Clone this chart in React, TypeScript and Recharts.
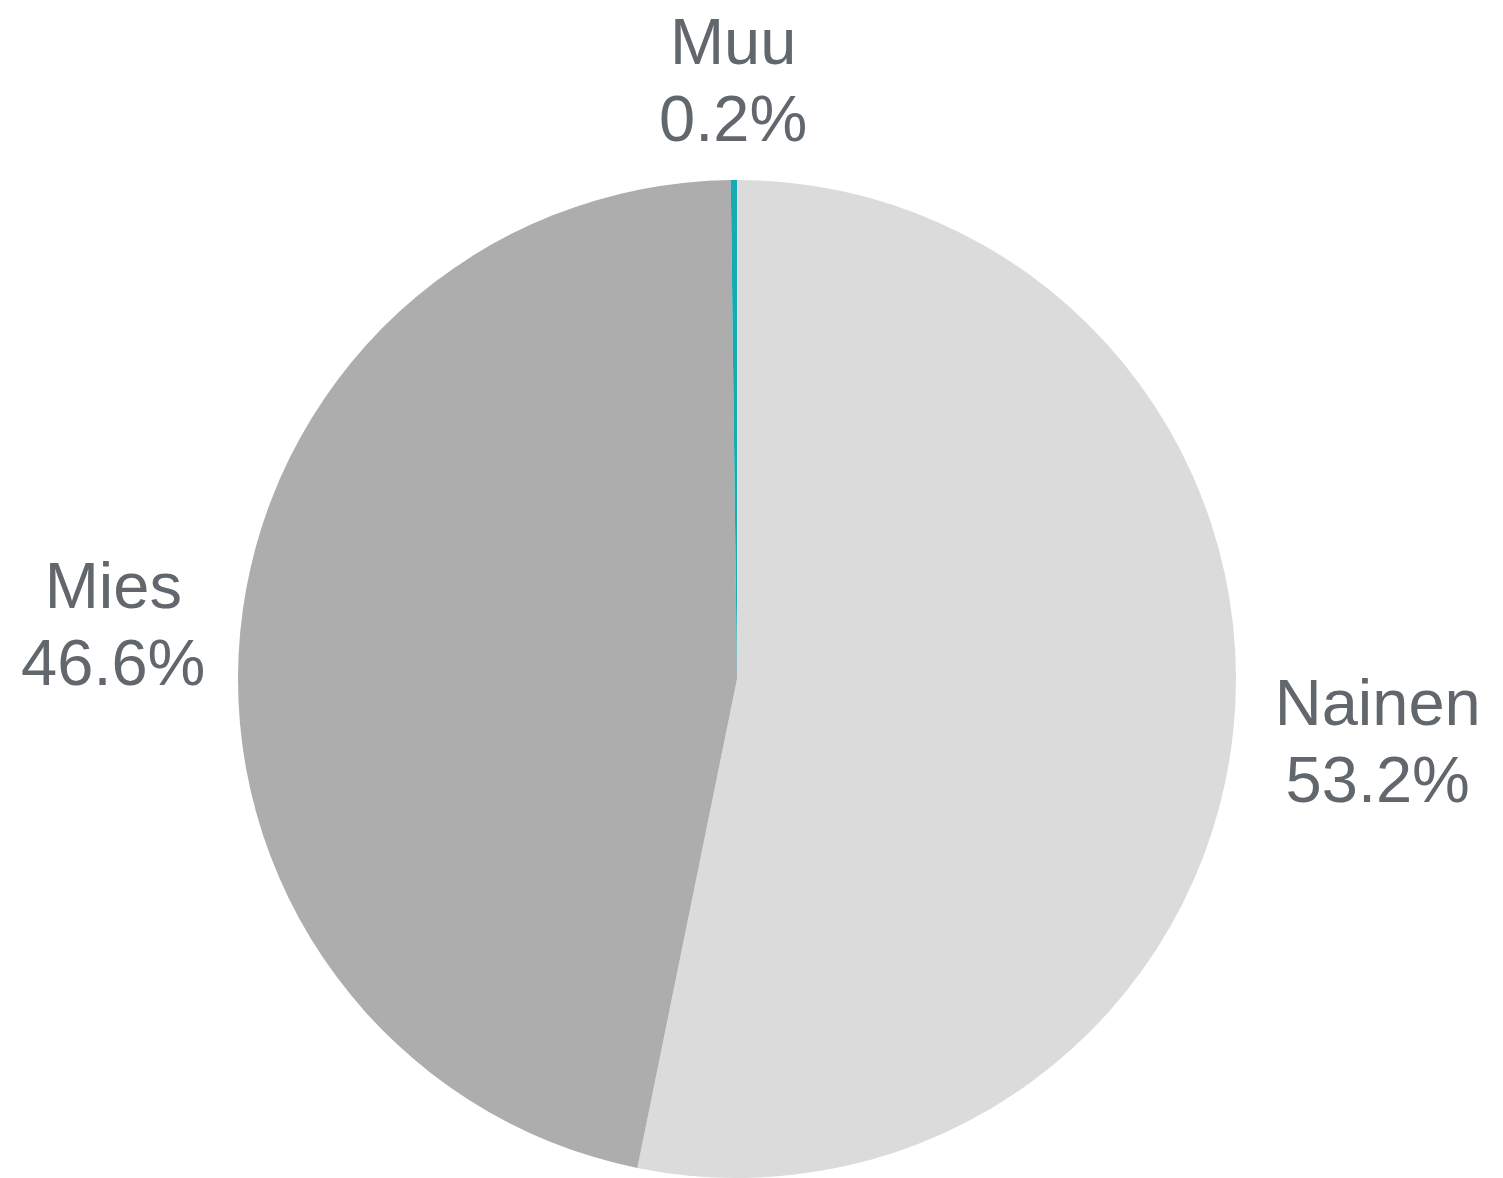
import React from "react";
import { PieChart, Pie, Cell } from "recharts";

const categories = ["Nainen", "Mies", "Muu"];
const shares = [53.2, 46.6, 0.2];
const colors = ["#dbdbdb", "#adadad", "#17aab2"];

const data = categories.map((name, i) => ({ name, value: shares[i] }));

const RAD = Math.PI / 180;

const renderLabel = (props: any) => {
  const { cx, cy, midAngle, outerRadius, name, value } = props;
  const valueText = `${Number(value).toFixed(1)}%`;
  const maxChars = Math.max(String(name).length, valueText.length);
  const halfWidth = (maxChars * 35) / 2;
  const R = outerRadius + 102;
  const c = Math.cos(-midAngle * RAD);
  const s = Math.sin(-midAngle * RAD);
  const x = cx + R * c + c * Math.max(0, halfWidth - 62);
  const y = cy + R * s;
  return (
    <text
      x={x}
      y={y}
      textAnchor="middle"
      fill="#61676c"
      fontFamily="'Liberation Sans', Arial, sans-serif"
      fontSize={65}
    >
      <tspan x={x} y={y - 14}>{name}</tspan>
      <tspan x={x} y={y + 63}>{valueText}</tspan>
    </text>
  );
};

export default function App() {
  return (
    <div style={{ position: "absolute", left: 0, top: 0, width: 1503, height: 1178, background: "#fff" }}>
      <PieChart width={1503} height={1178} margin={{ top: 0, right: 0, bottom: 0, left: 0 }}>
        <Pie
          data={data}
          dataKey="value"
          nameKey="name"
          cx={737}
          cy={679}
          outerRadius={499}
          startAngle={90}
          endAngle={-270}
          stroke="none"
          label={renderLabel}
          labelLine={false}
          isAnimationActive={false}
        >
          {data.map((d, i) => (
            <Cell key={d.name} fill={colors[i]} />
          ))}
        </Pie>
      </PieChart>
    </div>
  );
}
